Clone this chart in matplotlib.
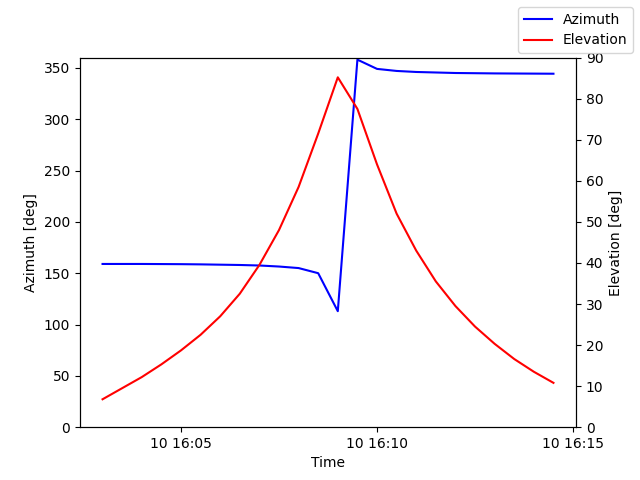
import numpy as np
import matplotlib
matplotlib.use("Agg")
import matplotlib.pyplot as plt

times = np.arange(np.datetime64("2024-01-10T16:03:00"), np.datetime64("2024-01-10T16:15:00"), np.timedelta64(30, "s"))
azimuth = [159, 159, 159, 158.9, 158.8, 158.6, 158.3, 158, 157.5, 156.5, 155, 150, 113,
           358, 349, 347, 346, 345.5, 345, 344.8, 344.6, 344.5, 344.4, 344.3]
elevation = [6.8, 9.5, 12.2, 15.3, 18.7, 22.5, 27, 32.5, 39.5, 48, 58.5, 71.5, 85.2,
             77.5, 64, 52, 43, 35.5, 29.5, 24.5, 20.3, 16.6, 13.5, 10.8]

fig, ax = plt.subplots(figsize=(6.4, 4.8), dpi=100)
ax.plot(times, azimuth, color="blue", label="Azimuth")
ax.set_ylim(0, 360)
ax.set_ylabel("Azimuth [deg]")
ax.set_xlabel("Time")
ax2 = ax.twinx()
ax2.plot(times, elevation, color="red", label="Elevation")
ax2.set_ylim(0, 90)
ax2.set_ylabel("Elevation [deg]")
fig.legend(loc="upper right")
fig.savefig("out.png")
